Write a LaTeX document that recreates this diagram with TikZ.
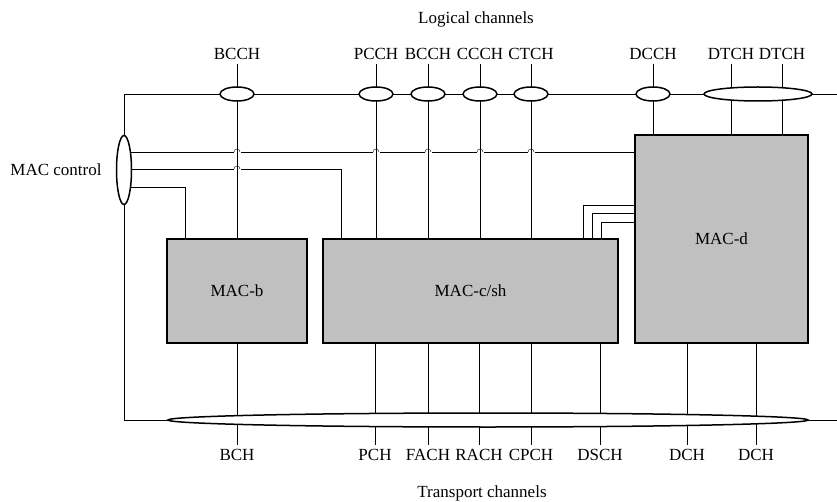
\documentclass[tikz,border=0pt]{standalone}
\usepackage{fontspec}
\setmainfont{Liberation Serif}
\usetikzlibrary{shapes.geometric,backgrounds}
\definecolor{macgray}{RGB}{192,192,192}

\begin{document}
\begin{tikzpicture}[x=1pt,y=-1pt,line width=1.5pt,
  every node/.style={font=\fontsize{17}{20}\selectfont},
  macbox/.style={draw,fill=macgray,inner sep=0pt},
  chan/.style={draw,ellipse,fill=white,inner sep=0pt,minimum height=14pt,minimum width=34pt}]
\useasboundingbox (0,0) rectangle (837,502);

% titles
\node (logic) at (476,19) {Logical channels};
\node (trans) at (482,493) {Transport channels};
\node (ctrltxt) at (56,170) {MAC control};

% MAC blocks
\node[macbox,minimum width=140pt,minimum height=104pt] (macb) at (237,291) {MAC-b};
\node[macbox,minimum width=295pt,minimum height=104pt] (maccsh) at (470.5,291) {MAC-c/sh};
\node[macbox,minimum width=173pt,minimum height=208pt] (macd) at (721.5,239) {};
\node (macdtxt) at (721.5,239) {MAC-d};

% logical channel labels
\node (lBCCHa) at (237,54) {BCCH};
\node (lPCCH) at (376,54) {PCCH};
\node (lBCCHb) at (428,54) {BCCH};
\node (lCCCH) at (480,54) {CCCH};
\node (lCTCH) at (531,54) {CTCH};
\node (lDCCH) at (653,54) {DCCH};
\node (lDTCHa) at (731,54) {DTCH};
\node (lDTCHb) at (782,54) {DTCH};

% transport channel labels
\node (tBCH) at (237,455) {BCH};
\node (tPCH) at (375,455) {PCH};
\node (tFACH) at (428,455) {FACH};
\node (tRACH) at (479,455) {RACH};
\node (tCPCH) at (531,455) {CPCH};
\node (tDSCH) at (600,455) {DSCH};
\node (tDCHa) at (687,455) {DCH};
\node (tDCHb) at (756,455) {DCH};

% ellipses
\node[chan] (eBCCHa) at (237,94) {};
\node[chan] (ePCCH) at (376,94) {};
\node[chan] (eBCCHb) at (428,94) {};
\node[chan] (eCCCH) at (480,94) {};
\node[chan] (eCTCH) at (531,94) {};
\node[chan] (eDCCH) at (653,94) {};
\node[chan,minimum width=108pt] (eDTCH) at (758,94) {};
\node[chan,minimum width=15pt,minimum height=69pt] (ctrl) at (124,170) {};
\node[chan,minimum width=640pt] (bus) at (488,420) {};

\coordinate (topL) at (124,94);
\coordinate (topR) at (837,94);
\coordinate (botL) at (124,420);
\coordinate (botR) at (837,420);

% ========== connectors ==========
\begin{scope}[on background layer]
% frame
\draw (topR) -- (topL) -- (botL) -- (botR);

% MAC control
\draw (ctrl.center |- 0,152) -- (macd.center |- 0,152);
\draw (ctrl.center |- 0,169) -- (341,169) -- (341,291);
\draw (ctrl.center |- 0,187) -- (185,187) -- (185,291);

% MAC-c/sh <-> MAC-d
\draw (583,291) -- (583,205) -- (macd.center |- 0,205);
\draw (592,291) -- (592,213) -- (macd.center |- 0,213);
\draw (601,291) -- (601,222) -- (macd.center |- 0,222);

% line crossings
\foreach \x in {237,376,428,480,531}
  \fill[white] (\x-3.5,151) rectangle (\x+3.5,153.5);
\fill[white] (233.5,168) rectangle (240.5,170.5);
\foreach \x in {237,376,428,480,531}
  \draw (\x-3,152) arc[start angle=180,end angle=0,radius=3pt];
\draw (234,169) arc[start angle=180,end angle=0,radius=3pt];

% logical channels -> MAC
\draw (lBCCHa) -- (lBCCHa |- macb.center);
\draw (lPCCH) -- (lPCCH |- maccsh.center);
\draw (lBCCHb) -- (lBCCHb |- maccsh.center);
\draw (lCCCH) -- (lCCCH |- maccsh.center);
\draw (lCTCH) -- (lCTCH |- maccsh.center);
\draw (lDCCH) -- (lDCCH |- macd.center);
\draw (lDTCHa) -- (lDTCHa |- macd.center);
\draw (lDTCHb) -- (lDTCHb |- macd.center);

% MAC -> transport channels
\draw (tBCH |- macb.center) -- (tBCH);
\draw (tPCH |- maccsh.center) -- (tPCH);
\draw (tFACH |- maccsh.center) -- (tFACH);
\draw (tRACH |- maccsh.center) -- (tRACH);
\draw (tCPCH |- maccsh.center) -- (tCPCH);
\draw (tDSCH |- maccsh.center) -- (tDSCH);
\draw (tDCHa |- macd.center) -- (tDCHa);
\draw (tDCHb |- macd.center) -- (tDCHb);
\end{scope}
\end{tikzpicture}
\end{document}
